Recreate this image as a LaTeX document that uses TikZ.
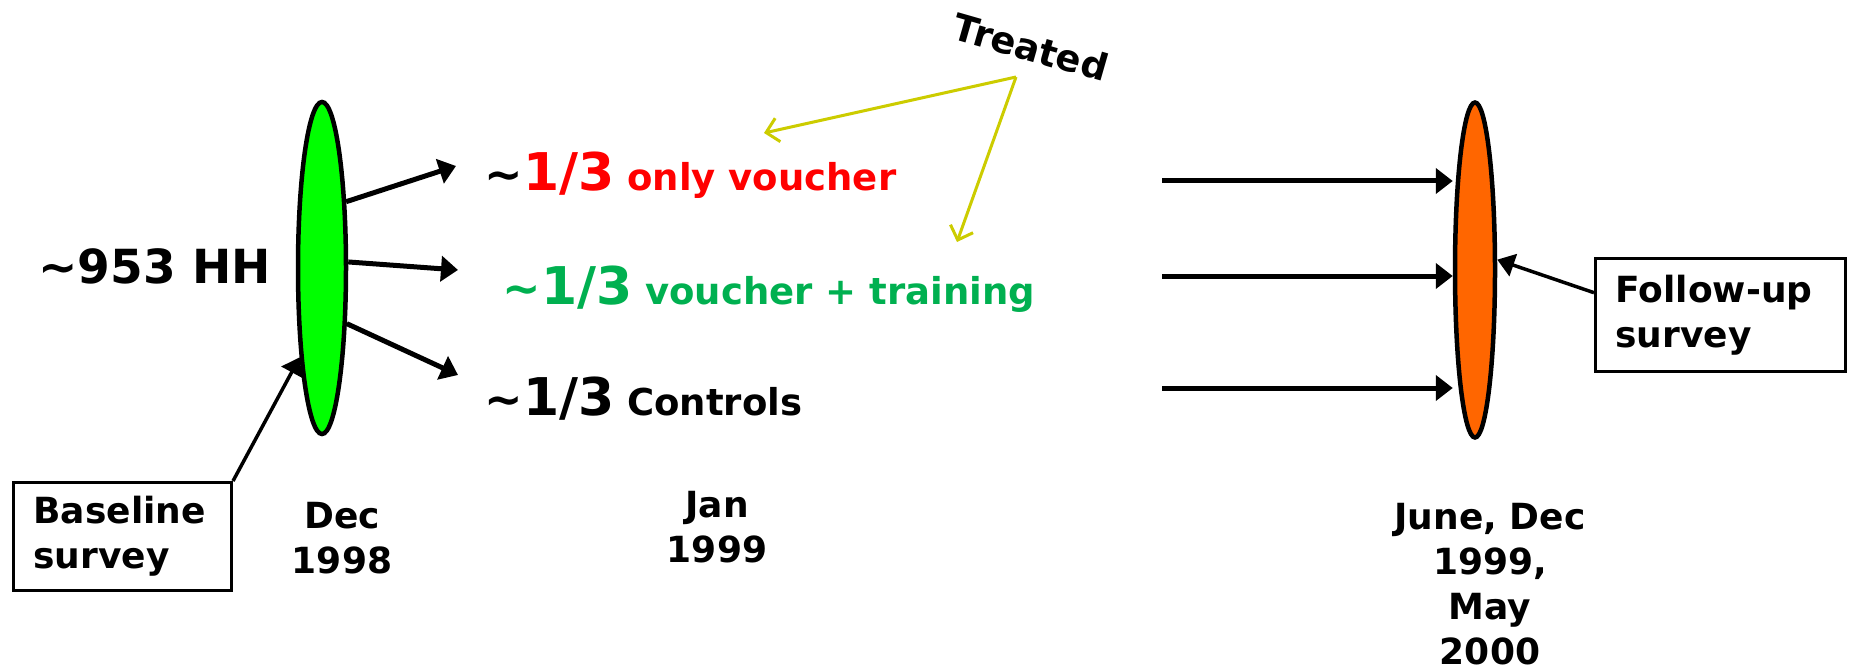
\documentclass[tikz,border=0pt]{standalone}
\usepackage{fontspec}
\setmainfont{DejaVu Sans}
\usetikzlibrary{shapes.geometric, arrows.meta}
\definecolor{surveygreen}{HTML}{00FF00}
\definecolor{groupgreen}{HTML}{00B050}
\definecolor{surveyorange}{HTML}{FF6600}
\definecolor{treatyellow}{HTML}{CCCC00}
\newcommand{\grpthird}{{\fontsize{52}{60}\selectfont 1/3}}
\newcommand{\grptilde}{{\fontsize{46}{52}\selectfont\textasciitilde}}
\tikzset{
  survey node/.style={
    ellipse,
    draw,
    line width=4.5pt,
    inner sep=0pt,
  },
  survey box/.style={
    draw,
    line width=3pt,
    align=left,
    inner xsep=20pt,
    font=\bfseries\fontsize{36}{45}\selectfont,
  },
  date label/.style={align=center, anchor=base, font=\bfseries\fontsize{36}{45}\selectfont},
  group label/.style={anchor=base west, font=\bfseries\fontsize{37}{44}\selectfont},
  split arrow/.style={line width=5pt, -{Triangle[length=17pt, width=25pt]}},
  survey arrow/.style={line width=3.5pt, -{Triangle[length=17pt, width=23pt]}},
  treat arrow/.style={line width=3pt, color=treatyellow, -{Straight Barb[length=12pt, width=24pt]}},
}

\begin{document}
\begin{tikzpicture}[x=1pt, y=-1pt]
      \useasboundingbox (0,0) rectangle (1849,671);

      \node[survey node, fill=surveygreen,  minimum width=48pt, minimum height=332pt] (base)   at (322,268)  {};
      \node[survey node, fill=surveyorange, minimum width=40pt, minimum height=335pt] (follow) at (1475,270) {};

      \node[anchor=base west, font=\bfseries\fontsize{47}{56}\selectfont] (hh) at (35,283) {\textasciitilde953 HH};

      \node[group label] (only)     at (481,191) {\grptilde\textcolor{red}{\grpthird\ only voucher}};
      \node[group label, text=groupgreen] (training) at (499,304) {\grptilde\grpthird\ voucher + training};
      \node[group label] (controls) at (481,415) {\grptilde\grpthird\ Controls};

      \node[date label] (dec)  at (342,573)  {Dec\\1998};
      \node[date label] (jan)  at (717,562)  {Jan\\1999};
      \node[date label] (june) at (1490,664) {June, Dec\\1999,\\May\\2000};

      \node[survey box, text width=178pt, minimum height=108pt] (bbox) at (122.5,536.5) {Baseline\\survey};
      \node[survey box, text width=210pt, minimum height=113pt] (fbox) at (1720.5,315)  {Follow-up\\survey};

      \node[rotate=-16, font=\bfseries\fontsize{37}{44}\selectfont] (treated) at (1031,47) {Treated};

      \coordinate (t1) at (456,166);
      \coordinate (t2) at (458,270);
      \coordinate (t3) at (458,375);
      \coordinate (r1) at (1162,181);
      \coordinate (r2) at (1162,276);
      \coordinate (r3) at (1162,388);
      \coordinate (fork) at (1016,77);
      \coordinate (tip1) at (764,133);
      \coordinate (tip2) at (957,242);

      \path[split arrow] (base.70)  edge (t1);
      \path[split arrow] (base.13)  edge (t2);
      \path[split arrow] (base.-66) edge (t3);

      \path[split arrow] (r1) edge (r1 -| follow.west);
      \path[split arrow] (r2) edge (r2 -| follow.west);
      \path[split arrow] (r3) edge (r3 -| follow.west);

      \path[survey arrow] (bbox.north east) edge (base.256);
      \path[survey arrow] (fbox.170) edge (follow.25);

      \path[treat arrow] (fork) edge (tip1);
      \path[treat arrow] (fork) edge (tip2);
    \end{tikzpicture}
\end{document}
